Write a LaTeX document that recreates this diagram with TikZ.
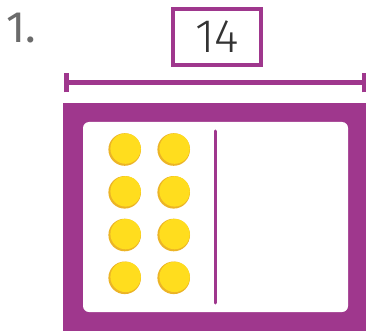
\documentclass[tikz,border=0pt]{standalone}
\usepackage{fontspec}
\setmainfont{Fira Sans}
\newfontfamily\lightfont{Fira Sans Light}
\definecolor{framepurple}{HTML}{9F378D}
\definecolor{dotyellow}{HTML}{FFDD1E}
\definecolor{dotrim}{HTML}{ECB426}
\definecolor{numgray}{HTML}{6B6B6B}
\definecolor{digitdark}{HTML}{333333}
\tikzset{
  counter/.pic={
    \fill[dotrim] (0,0) circle (16.3);
    \fill[dotyellow] (0.9,-0.9) circle (15.2);
  },
  dimline/.style={draw=framepurple, line width=5pt},
}
\begin{document}
\begin{tikzpicture}[x=1pt,y=-1pt]
\useasboundingbox (0,0) rectangle (366,331);
% problem number
\node[anchor=base west, inner sep=0pt, text=numgray, font=\fontsize{44}{44}\selectfont] (num) at (6,43) {1.};
% value box
\node[draw=framepurple, line width=4pt, minimum width=88pt, minimum height=56pt, inner sep=0pt,
      text=digitdark, font=\lightfont\fontsize{47}{47}\selectfont] (val) at (217,37) {14};
% dimension line
\coordinate (dl) at (66,83);
\coordinate (dr) at (364,83);
\draw[dimline] (dl) -- (dr);
\draw[dimline] ([yshift=-9.5pt]dl) -- ([yshift=9.5pt]dl);
\draw[dimline] ([yshift=-9.5pt]dr) -- ([yshift=9.5pt]dr);
% frame
\fill[framepurple] (63,103) rectangle (366,331);
\fill[white, rounded corners=6pt] (83,122) rectangle (348,312);
\draw[framepurple, line width=3pt, line cap=round] (215.5,131) -- (215.5,303);
% counters
\foreach \cx in {124.7,173.7}{
  \foreach \cy in {149.5,192.3,235,277.8}{
    \pic at (\cx,\cy) {counter};
  }
}
\end{tikzpicture}
\end{document}
